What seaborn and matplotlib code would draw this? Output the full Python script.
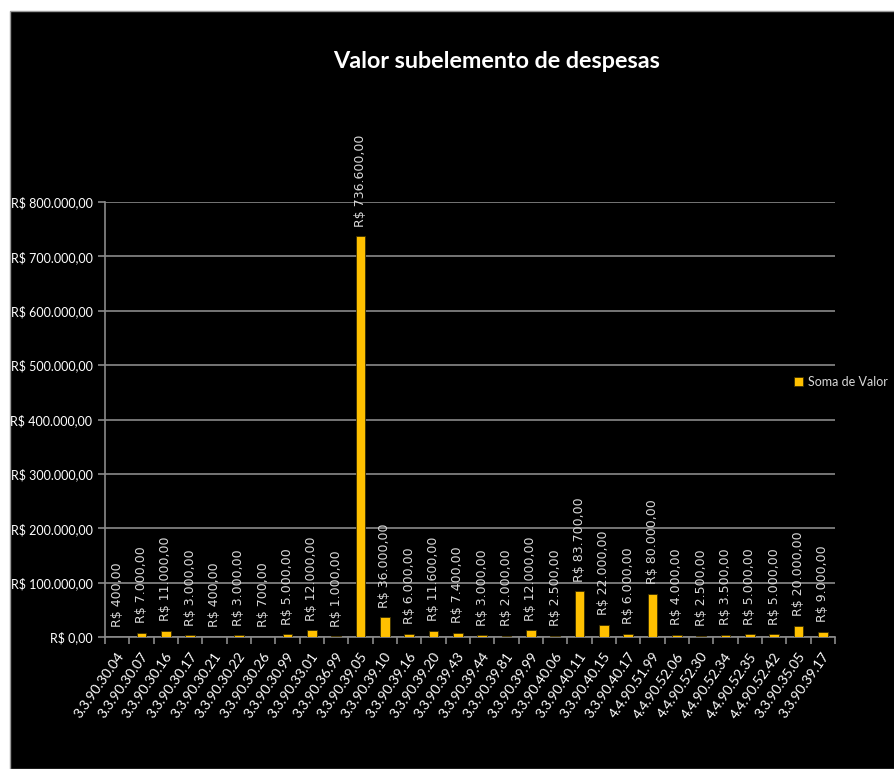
import numpy as np
import pandas as pd
import matplotlib
matplotlib.use("Agg")
import matplotlib.pyplot as plt
import matplotlib.transforms as mtrans
from matplotlib.patches import Rectangle
from matplotlib.ticker import FuncFormatter, MultipleLocator
import seaborn as sns

subelementos = ["3.3.90.30.04", "3.3.90.30.07", "3.3.90.30.16", "3.3.90.30.17",
                "3.3.90.30.21", "3.3.90.30.22", "3.3.90.30.26", "3.3.90.30.99",
                "3.3.90.33.01", "3.3.90.36.99", "3.3.90.39.05", "3.3.90.39.10",
                "3.3.90.39.16", "3.3.90.39.20", "3.3.90.39.43", "3.3.90.39.44",
                "3.3.90.39.81", "3.3.90.39.99", "3.3.90.40.06", "3.3.90.40.11",
                "3.3.90.40.15", "3.3.90.40.17", "4.4.90.51.99", "4.4.90.52.06",
                "4.4.90.52.30", "4.4.90.52.34", "4.4.90.52.35", "4.4.90.52.42",
                "3.3.90.35.05", "3.3.90.39.17"]
valores = [400, 7000, 11000, 3000, 400, 3000, 700, 5000, 12000, 1000,
           736600, 36000, 6000, 11600, 7400, 3000, 2000, 12000, 2500, 83700,
           22000, 6000, 80000, 4000, 2500, 3500, 5000, 5000, 20000, 9000]

df = pd.DataFrame({"subelemento": subelementos, "valor": valores})


def brl(v):
    s = f"{v:,.2f}"
    return "R$ " + s.replace(",", "X").replace(".", ",").replace("X", ".")


sns.set_style("dark")
plt.rcParams['font.family'] = ['Lato', 'DejaVu Sans']

txt = "#d9d9d9"
grid = "#8a8a8a"
amarelo = "#FFC000"

fig = plt.figure(figsize=(8.95, 7.69), dpi=100)
fig.patch.set_facecolor("white")
fig.patches.append(Rectangle((10 / 895, 0), 1, 1 - 11 / 769, transform=fig.transFigure,
                             facecolor="black", edgecolor="#9a9a9a", lw=1, zorder=-10))

ax = fig.add_axes([105 / 895, 1 - 637 / 769, 730 / 895, 435 / 769])
ax.set_facecolor("black")

sns.barplot(data=df, x="subelemento", y="valor", color=amarelo, saturation=1,
            width=0.4, label="Soma de Valor", ax=ax, zorder=3,
            edgecolor="#3a2e00", linewidth=0.6)

ax.bar_label(ax.containers[0], labels=[brl(v) for v in valores], rotation=90,
             padding=7, color=txt, fontsize=9, family="DejaVu Sans")

ax.set_ylim(0, 800000)
ax.set_xlim(-0.5, len(subelementos) - 0.5)
ax.yaxis.set_major_locator(MultipleLocator(100000))
ax.yaxis.set_major_formatter(FuncFormatter(lambda v, _: brl(v)))
ax.grid(axis="y", color=grid, lw=1.2, zorder=0)
ax.grid(axis="x", visible=False)

for s in ["top", "right"]:
    ax.spines[s].set_visible(False)
for s in ["left", "bottom"]:
    ax.spines[s].set_visible(True)
    ax.spines[s].set_color(grid)
    ax.spines[s].set_linewidth(1.2)

ax.set_xticks(np.arange(-0.5, len(subelementos), 1), minor=True)
ax.tick_params(axis="x", which="minor", length=5, color=grid, width=1.2, bottom=True)
ax.tick_params(axis="x", which="major", length=0, pad=12, colors="white", labelsize=10)
ax.tick_params(axis="y", length=5, color=grid, width=1.2, left=True, pad=4,
               colors="white", labelsize=9)
shift = mtrans.ScaledTranslation(4 / 100, 0, fig.dpi_scale_trans)
for lab in ax.get_xticklabels():
    lab.set_rotation(55)
    lab.set_ha("right")
    lab.set_va("center")
    lab.set_rotation_mode("anchor")
    lab.set_transform(lab.get_transform() + shift)
ax.set_xlabel("")
ax.set_ylabel("")

leg = ax.legend(loc="center left", bbox_to_anchor=(794 / 895, 1 - 382 / 769),
                bbox_transform=fig.transFigure, frameon=False, fontsize=9,
                handlelength=0.7, handleheight=0.7, handletextpad=0.4,
                borderpad=0, borderaxespad=0)
for t in leg.get_texts():
    t.set_color(txt)

fig.text(497 / 895, 1 - 62 / 769, "Valor subelemento de despesas", ha="center",
         va="center", color="white", fontsize=16.8, fontweight="bold")

fig.savefig("out.png", dpi=100, facecolor=fig.get_facecolor())
